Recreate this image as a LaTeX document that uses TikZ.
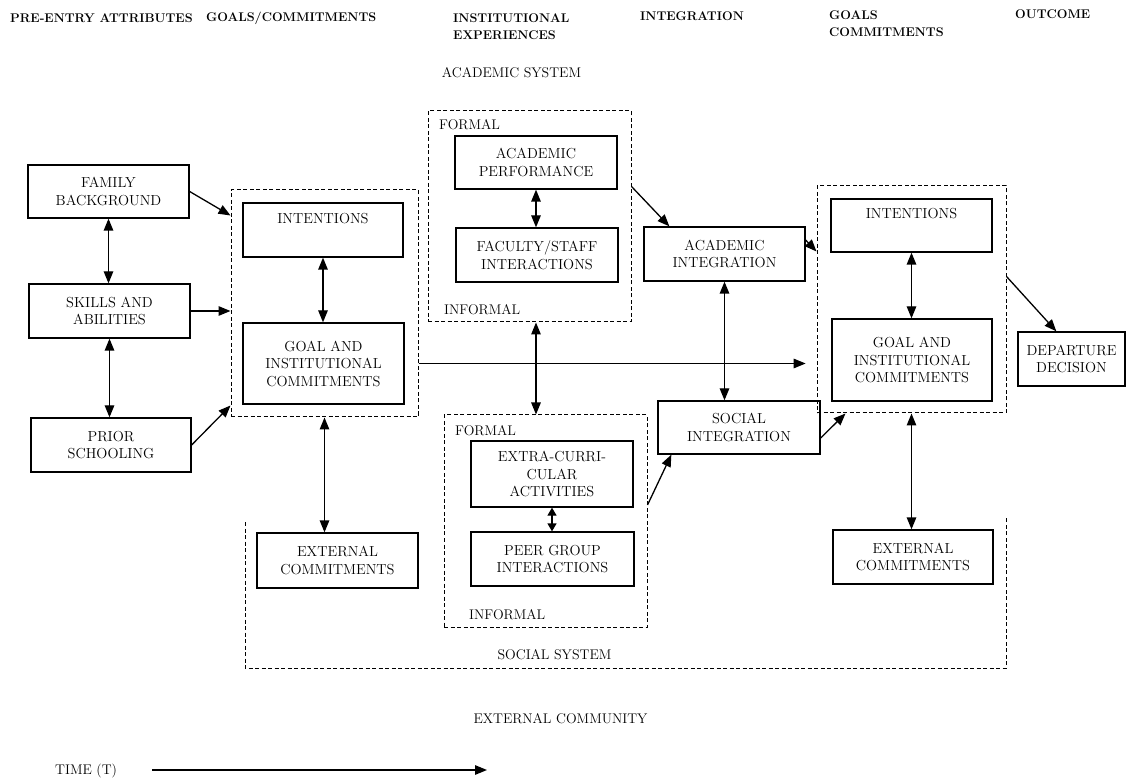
\documentclass[tikz,border=0pt]{standalone}
\usepackage{fontspec}
\usetikzlibrary{arrows.meta}

\tikzset{
	box/.style={draw, line width=1.3pt, align=center, inner sep=0pt, font=\fontsize{14.5}{17.5}\selectfont},
	grp/.style={draw, line width=1pt, dash pattern=on 4pt off 2.5pt, inner sep=0pt},
	lbl/.style={inner sep=0pt, font=\fontsize{14}{17.5}\selectfont},
	hdr/.style={anchor=west, align=left, inner sep=0pt, font=\bfseries\fontsize{12.6}{17}\selectfont},
	arr/.style={-{Triangle[length=12pt,width=9.5pt]}, line width=1.3pt},
	darr/.style={{Triangle[length=12pt,width=9.5pt]}-{Triangle[length=12pt,width=9.5pt]}, line width=1.3pt},
	sdarr/.style={{Triangle[length=8pt,width=9pt]}-{Triangle[length=8pt,width=9pt]}, line width=1.3pt},
}

\begin{document}
\begin{tikzpicture}[x=1pt, y=-1pt]
		\useasboundingbox (0,0) rectangle (1130,783);
		
		% headings
		\node[hdr] (h1) at (10,18) {PRE-ENTRY ATTRIBUTES};
		\node[hdr] (h2) at (206,18) {GOALS/COMMITMENTS};
		\node[hdr] (h3) at (453,26.5) {INSTITUTIONAL\\EXPERIENCES};
		\node[hdr] (h4) at (640,16) {INTEGRATION};
		\node[hdr] (h5) at (829,23.5) {GOALS\\COMMITMENTS};
		\node[hdr] (h6) at (1015,14) {OUTCOME};
		
		\node[grp, minimum width=187, minimum height=227] (lgrp) at (324.5,303.5) {};
		\node[grp, minimum width=203, minimum height=211] (acad) at (529.5,216.5) {};
		\node[grp, minimum width=203, minimum height=212] (soc) at (545.5,521) {};
		\node[grp, minimum width=189, minimum height=227] (rgrp) at (911.5,299.5) {};
		
		\node[box, minimum width=161, minimum height=53] (fam) at (108.5,191.5) {FAMILY\\BACKGROUND};
		\node[box, minimum width=161, minimum height=54] (skills) at (109.5,311) {SKILLS AND\\ABILITIES};
		\node[box, minimum width=160, minimum height=54] (prior) at (111,445) {PRIOR\\SCHOOLING};
		\node[box, minimum width=160, minimum height=54] (lint) at (323,230) {INTENTIONS\\[6pt]~};
		\node[box, minimum width=161, minimum height=81] (lgoal) at (323.5,363.5) {GOAL AND\\INSTITUTIONAL\\COMMITMENTS};
		\node[box, minimum width=161, minimum height=55] (lext) at (337.5,560.5) {EXTERNAL\\COMMITMENTS};
		\node[box, minimum width=162, minimum height=53] (acperf) at (536,162.5) {ACADEMIC\\PERFORMANCE};
		\node[box, minimum width=162, minimum height=54] (fac) at (537,255) {FACULTY/STAFF\\INTERACTIONS};
		\node[box, minimum width=162, minimum height=66] (extra) at (552,474) {EXTRA-CURRI-\\CULAR\\ACTIVITIES};
		\node[box, minimum width=163, minimum height=54] (peer) at (552.5,559) {PEER GROUP\\INTERACTIONS};
		\node[box, minimum width=161, minimum height=54] (acint) at (724.5,254) {ACADEMIC\\INTEGRATION};
		\node[box, minimum width=162, minimum height=53] (socint) at (739,427.5) {SOCIAL\\INTEGRATION};
		\node[box, minimum width=161, minimum height=53] (rint) at (911.5,225.5) {INTENTIONS\\[6pt]~};
		\node[box, minimum width=160, minimum height=82] (rgoal) at (912,360) {GOAL AND\\INSTITUTIONAL\\COMMITMENTS};
		\node[box, minimum width=160, minimum height=54] (rext) at (913,557) {EXTERNAL\\COMMITMENTS};
		\node[box, minimum width=107, minimum height=54] (dep) at (1071.5,359) {DEPARTURE\\DECISION};
		
		\node[lbl] (acsys) at (511.5,73) {ACADEMIC SYSTEM};
		\node[lbl, anchor=west] (aformal) at (439,125) {FORMAL};
		\node[lbl, anchor=west] (ainformal) at (444,310) {INFORMAL};
		\node[lbl, anchor=west] (sformal) at (455,431) {FORMAL};
		\node[lbl, anchor=west] (sinformal) at (469,615) {INFORMAL};
		\node[lbl] (socsys) at (554.5,655) {SOCIAL SYSTEM};
		\node[lbl] (extcom) at (560.5,719) {EXTERNAL COMMUNITY};
		\node[lbl, anchor=west] (time) at (55,771) {TIME (T)};
		
		% social system, open at the top
		\coordinate (S1) at (245,522);
		\coordinate (S2) at (245,668);
		\coordinate (S3) at (1006,668);
		\coordinate (S4) at (1006,517);
		\draw[grp] (S1) -- (S2) -- (S3) -- (S4);
		
		\draw[darr] (fam.south) -- (fam.south |- skills.north);
		\draw[darr] (skills.south) -- (skills.south |- prior.north);
		\draw[arr] (fam.east) -- ([yshift=-26pt]lgrp.north west);
		\draw[arr] (skills.east) -- (skills.east -| lgrp.west);
		\draw[arr] (prior.east) -- ([yshift=12pt]lgrp.south west);
		\draw[darr] (lint.south) -- (lint.south |- lgoal.north);
		\draw[darr] (lgrp.south) -- (lgrp.south |- lext.north);
		\draw[arr] (lgoal.east -| lgrp.east) -- (lgoal.east -| acint.east);
		
		\draw[darr] (acperf.south) -- (acperf.south |- fac.north);
		\draw[darr] (acperf.south |- acad.south) -- (acperf.south |- soc.north);
		\draw[sdarr] (extra.south) -- (extra.south |- peer.north);
		\draw[arr] ([yshift=-76pt]acad.north east) -- ([xshift=26pt]acint.north west);
		\draw[arr] ([yshift=16pt]soc.east) -- ([xshift=14pt]socint.south west);
		\draw[darr] (acint.south) -- (acint.south |- socint.north);
		
		\draw[arr] ([yshift=14pt]acint.east) -- ([yshift=-66pt]rgrp.north west);
		\draw[arr] ([yshift=-10.5pt]socint.east) -- ([xshift=29pt]rgrp.south west);
		\draw[darr] (rint.south) -- (rint.south |- rgoal.north);
		\draw[darr] (rgrp.south) -- (rgrp.south |- rext.north);
		\draw[arr] ([yshift=-91pt]rgrp.north east) -- ([xshift=39pt]dep.north west);
		
		\coordinate (T1) at (152,770);
		\coordinate (T2) at (487,770);
		\draw[arr] (T1) -- (T2);
	\end{tikzpicture}
\end{document}
